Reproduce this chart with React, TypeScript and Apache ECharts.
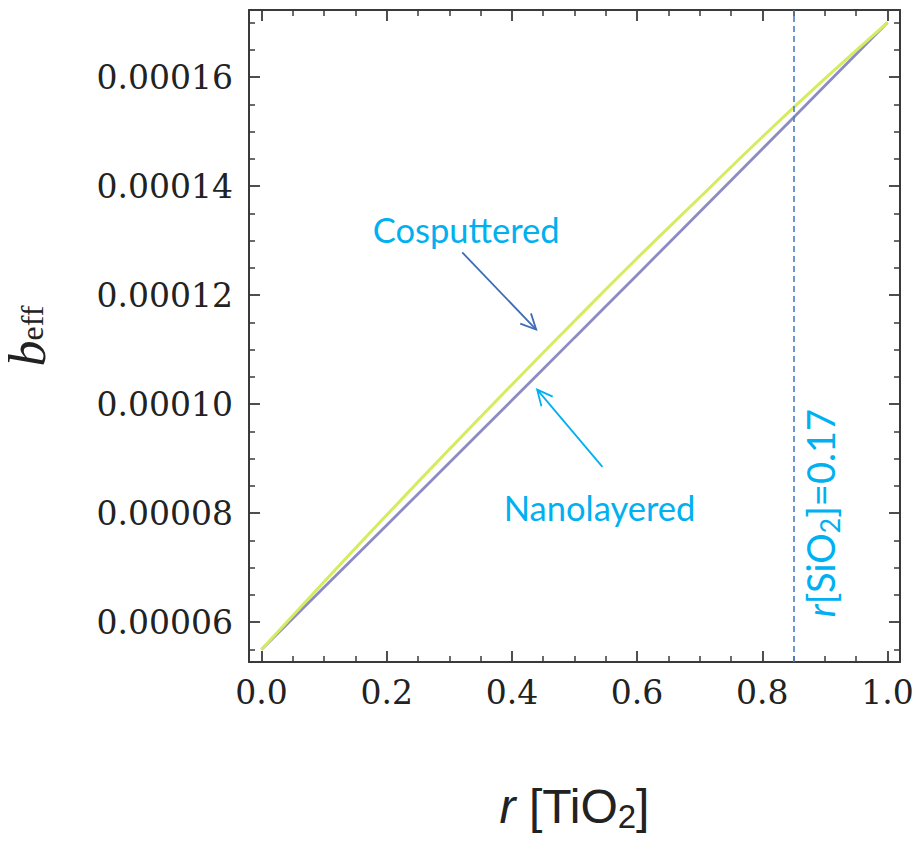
import React, { useEffect, useRef } from "react";
import * as echarts from "echarts";

// r[TiO2] sample positions
const rValues = [0, 0.1, 0.2, 0.3, 0.4, 0.5, 0.6, 0.7, 0.8, 0.9, 1.0];
// b_eff
const cosputtered = [
  0.000055, 0.00006742, 0.00007965, 0.00009171, 0.00010357, 0.00011526,
  0.00012676, 0.0001379, 0.000149, 0.0001597, 0.00017,
];
const nanolayered = [
  0.000055, 0.0000664, 0.0000778, 0.00008925, 0.0001007, 0.0001122,
  0.0001237, 0.00013525, 0.0001468, 0.0001584, 0.00017,
];

const xMajorTicks = [0, 0.2, 0.4, 0.6, 0.8, 1.0];
const xMinorTicks = [
  0.05, 0.1, 0.15, 0.25, 0.3, 0.35, 0.45, 0.5, 0.55, 0.65, 0.7, 0.75, 0.85,
  0.9, 0.95,
];
const yMajorTicks = [0.00006, 0.00008, 0.0001, 0.00012, 0.00014, 0.00016];
const yMinorTicks = [
  0.000055, 0.000065, 0.00007, 0.000075, 0.000085, 0.00009, 0.000095,
  0.000105, 0.00011, 0.000115, 0.000125, 0.00013, 0.000135, 0.000145,
  0.00015, 0.000155, 0.000165, 0.00017,
];

const X_MIN = -0.02;
const X_MAX = 1.02;
const Y_MIN = 0.0000527;
const Y_MAX = 0.0001723;

const siO2Marker = 0.847;

// annotations, in data units
const cosLabelPos = [0.327, 0.000132];
const nanoLabelPos = [0.54, 0.000081];
const markerLabelPos = [0.8925, 0.00008];
const cosArrow = [
  [0.3207, 0.00012783],
  [0.4388, 0.00011368],
];
const nanoArrow = [
  [0.5446, 0.00008849],
  [0.4404, 0.00010265],
];

const FRAME = "#3a3a3a";
const SERIF = "DejaVu Serif";

export default function App() {
  const ref = useRef<HTMLDivElement>(null);
  useEffect(() => {
    const chart = echarts.init(ref.current!, null, { renderer: "svg" });
    const lineStyle = { color: FRAME, width: 2 };
    const xBase = {
      type: "value",
      min: X_MIN,
      max: X_MAX,
      splitLine: { show: false },
      axisLine: { show: false, onZero: false, lineStyle },
      axisLabel: { show: false },
    };
    const yBase = {
      type: "value",
      min: Y_MIN,
      max: Y_MAX,
      splitLine: { show: false },
      axisLine: { show: false, onZero: false, lineStyle },
      axisLabel: { show: false },
    };
    const major = (vals: number[]) => ({
      show: true,
      inside: true,
      length: 11,
      customValues: vals,
      lineStyle: { color: FRAME, width: 1.8 },
    });
    const minor = (vals: number[]) => ({
      show: true,
      inside: true,
      length: 6,
      customValues: vals,
      lineStyle: { color: FRAME, width: 1.5 },
    });

    const option: any = {
      animation: false,
      backgroundColor: "#ffffff",
      grid: {
        left: 249,
        right: 17,
        top: 10,
        bottom: 180,
        containLabel: false,
        outerBoundsMode: "none",
      },
      xAxis: [
        {
          ...xBase,
          position: "bottom",
          axisLine: { show: true, onZero: false, lineStyle },
          axisTick: major(xMajorTicks),
          axisLabel: {
            show: true,
            customValues: xMajorTicks,
            formatter: (v: number) => v.toFixed(1),
            fontFamily: SERIF,
            fontSize: 33,
            color: "#222",
            margin: 14,
          },
          name: "{i|r} [TiO{s|2}]",
          nameLocation: "middle",
          nameGap: 118,
          nameTextStyle: {
            fontFamily: "Liberation Sans",
            fontSize: 48,
            color: "#222",
            rich: {
              i: { fontFamily: "Liberation Sans", fontSize: 48, fontStyle: "italic", color: "#222" },
              s: { fontFamily: "Liberation Sans", fontSize: 33, color: "#222", padding: [20, 0, 0, 0] },
            },
          },
        },
        { ...xBase, position: "bottom", axisTick: minor(xMinorTicks) },
        {
          ...xBase,
          position: "top",
          axisLine: { show: true, onZero: false, lineStyle },
          axisTick: major(xMajorTicks),
        },
        { ...xBase, position: "top", axisTick: minor(xMinorTicks) },
      ],
      yAxis: [
        {
          ...yBase,
          position: "left",
          axisLine: { show: true, onZero: false, lineStyle },
          axisTick: major(yMajorTicks),
          axisLabel: {
            show: true,
            customValues: yMajorTicks,
            formatter: (v: number) => v.toFixed(5),
            fontFamily: SERIF,
            fontSize: 33,
            color: "#222",
            margin: 16,
          },
          name: "{b|b}{s|eff}",
          nameLocation: "middle",
          nameGap: 186,
          nameTextStyle: {
            rich: {
              b: { fontFamily: "Liberation Serif", fontSize: 52, fontStyle: "italic", color: "#222", padding: [0, 0, 10, 0] },
              s: { fontFamily: "Liberation Serif", fontSize: 32, color: "#222" },
            },
          },
        },
        { ...yBase, position: "left", axisTick: minor(yMinorTicks) },
        {
          ...yBase,
          position: "right",
          axisLine: { show: true, onZero: false, lineStyle },
          axisTick: major(yMajorTicks),
        },
        { ...yBase, position: "right", axisTick: minor(yMinorTicks) },
      ],
      series: [
        {
          name: "Nanolayered",
          type: "line",
          xAxisIndex: 0,
          yAxisIndex: 0,
          data: rValues.map((r, i) => [r, nanolayered[i]]),
          smooth: true,
          showSymbol: false,
          lineStyle: { color: "#8c8cc4", width: 2.8 },
          markLine: {
            silent: true,
            symbol: "none",
            label: { show: false },
            lineStyle: { color: "#4a7ec6", width: 1.6, type: [6, 4] },
            data: [{ xAxis: siO2Marker }],
          },
        },
        {
          name: "Cosputtered",
          type: "line",
          xAxisIndex: 0,
          yAxisIndex: 0,
          data: rValues.map((r, i) => [r, cosputtered[i]]),
          smooth: true,
          showSymbol: false,
          lineStyle: { color: "#d4ec5e", width: 3 },
        },
      ],
    };
    chart.setOption(option);

    const toPx = (p: number[]) =>
      chart.convertToPixel({ xAxisIndex: 0, yAxisIndex: 0 }, p) as number[];

    const arrow = (pts: number[][], color: string) => {
      const a = toPx(pts[0]);
      const b = toPx(pts[1]);
      const ang = Math.atan2(b[1] - a[1], b[0] - a[0]);
      const L = 17;
      const spread = 0.45;
      const h1 = [b[0] - L * Math.cos(ang - spread), b[1] - L * Math.sin(ang - spread)];
      const h2 = [b[0] - L * Math.cos(ang + spread), b[1] - L * Math.sin(ang + spread)];
      return [
        {
          type: "line",
          shape: { x1: a[0], y1: a[1], x2: b[0], y2: b[1] },
          style: { stroke: color, lineWidth: 1.8 },
        },
        {
          type: "polyline",
          shape: { points: [h1, b, h2] },
          style: { stroke: color, lineWidth: 1.8, fill: null },
        },
      ];
    };

    const cosP = toPx(cosLabelPos);
    const nanoP = toPx(nanoLabelPos);
    const mkP = toPx(markerLabelPos);
    const CYAN = "#00b0f0";
    chart.setOption({
      graphic: [
        {
          type: "text",
          x: cosP[0],
          y: cosP[1],
          style: {
            text: "Cosputtered",
            fill: CYAN,
            font: '34.5px "Lato"',
            align: "center",
            verticalAlign: "middle",
          },
        },
        {
          type: "text",
          x: nanoP[0],
          y: nanoP[1],
          style: {
            text: "Nanolayered",
            fill: CYAN,
            font: '34.5px "Lato"',
            align: "center",
            verticalAlign: "middle",
          },
        },
        {
          type: "text",
          x: mkP[0],
          y: mkP[1],
          rotation: Math.PI / 2,
          style: {
            text: "{i|r}[SiO{s|2}]=0.17",
            fill: CYAN,
            font: '38px "Lato"',
            align: "center",
            verticalAlign: "middle",
            rich: {
              i: { font: 'italic 38px "Lato"', fill: CYAN },
              s: { font: '27px "Lato"', fill: CYAN, padding: [18, 0, 0, 0] },
            },
          },
        },
        ...arrow(cosArrow, "#3d6db5"),
        ...arrow(nanoArrow, CYAN),
      ],
    });
    return () => chart.dispose();
  }, []);
  return (
    <div
      ref={ref}
      style={{ position: "fixed", left: 0, top: 0, width: 917, height: 842, background: "#fff" }}
    />
  );
}
